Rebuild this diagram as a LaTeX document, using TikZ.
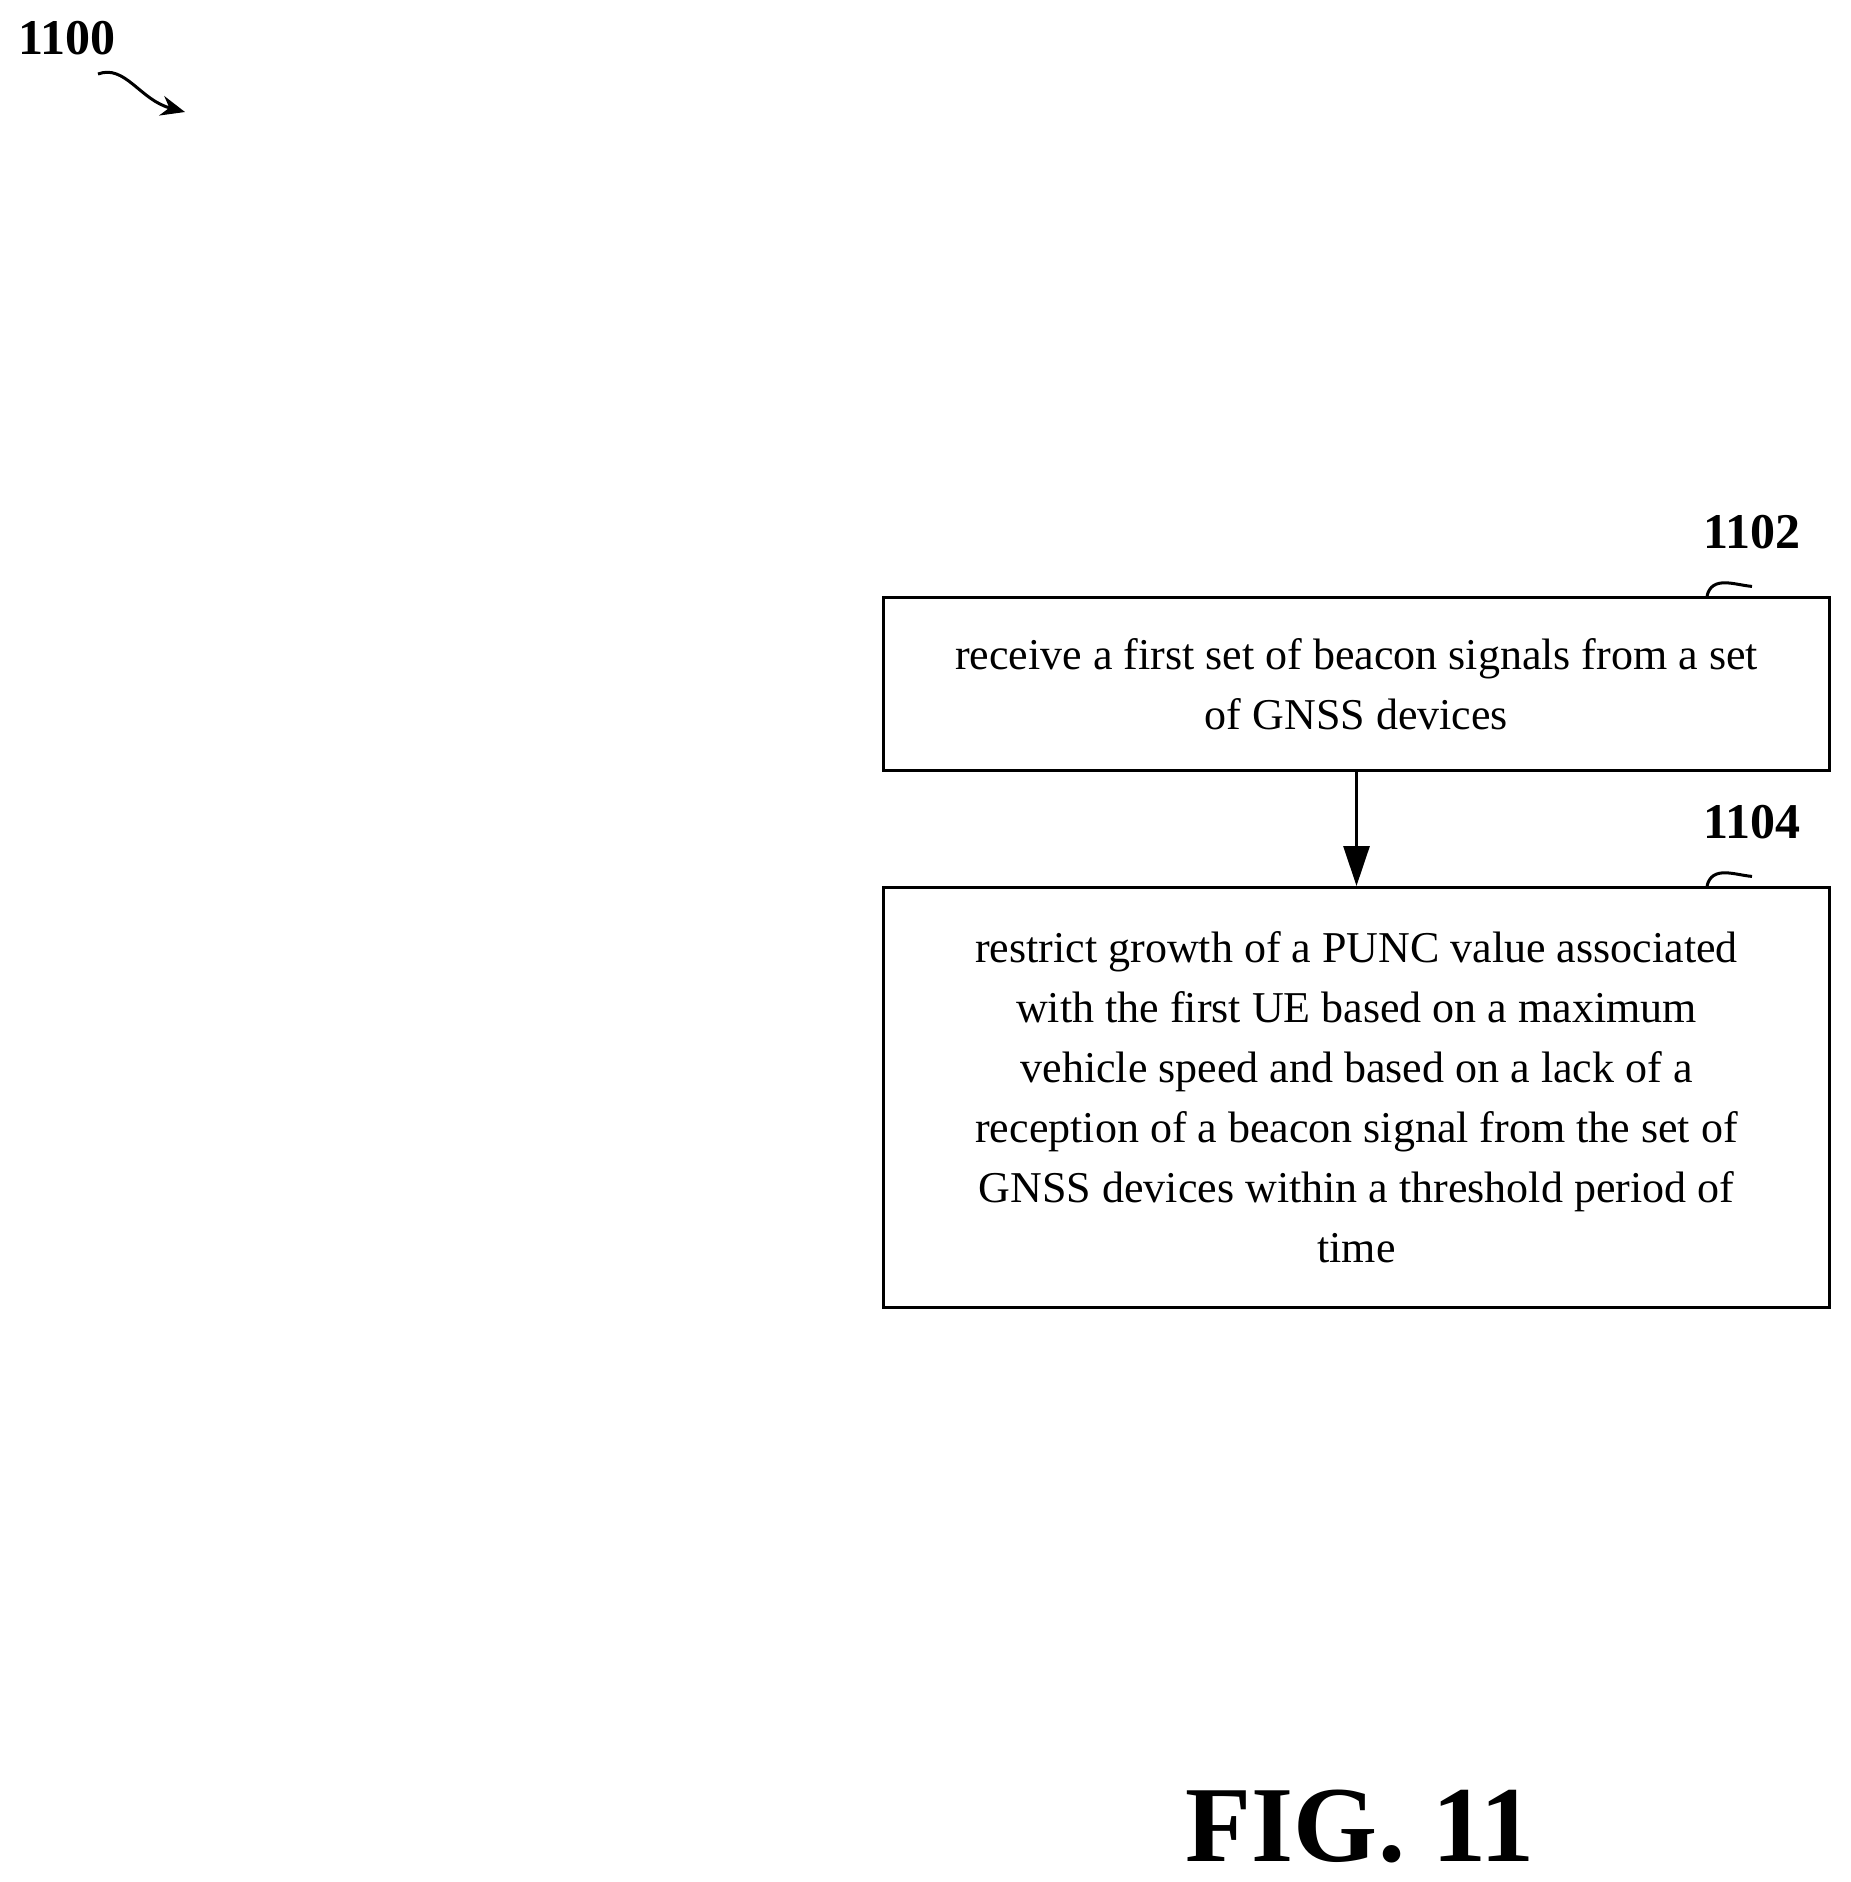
\documentclass[tikz,border=0pt]{standalone}
\usepackage{fontspec}
\setmainfont{Liberation Serif}
\usetikzlibrary{arrows.meta}
\begin{document}
\begin{tikzpicture}[x=1pt,y=-1pt,
  boxst/.style={draw,line width=3pt,inner sep=0pt,align=center,font=\fontsize{44}{60}\selectfont},
  lbl/.style={font=\fontsize{50}{50}\selectfont\bfseries},
  sq/.style={line width=3pt}]
\useasboundingbox (0,0) rectangle (1851,1882);
\node[boxst,minimum width=946,minimum height=173,anchor=north west] (b1) at (882,596)
 {receive a first set of beacon signals from a set\\of GNSS devices};
\node[boxst,minimum width=946,minimum height=420,anchor=north west] (b2) at (882,886)
 {restrict growth of a PUNC value associated\\with the first UE based on a maximum\\vehicle speed and based on a lack of a\\reception of a beacon signal from the set of\\GNSS devices within a threshold period of\\time};
\draw[line width=3pt,-{Triangle[length=40pt,width=26pt]}] (b1.south) -- (b2.north);
\node[lbl] (l1) at (1752,532) {1102};
\node[lbl] (l2) at (1752,822) {1104};
\coordinate (s1) at (1707,596);
\coordinate (s2) at (1707,886);
\draw[sq] (s1) .. controls (1712,575) and (1735,585) .. ([yshift=-34]l1.south);
\draw[sq] (s2) .. controls (1712,865) and (1735,875) .. ([yshift=-34]l2.south);
\node[lbl] (l0) at (67,38) {1100};
\coordinate (a0) at (98,74);
\coordinate (a1) at (185,112);
\draw[line width=3pt,-{Stealth[length=24pt,width=20pt]}] (a0) .. controls (125,64) and (140,100) .. (a1);
\node[font=\fontsize{108}{108}\selectfont\bfseries] (fig) at (1360,1826) {FIG. 11};
\end{tikzpicture}
\end{document}
